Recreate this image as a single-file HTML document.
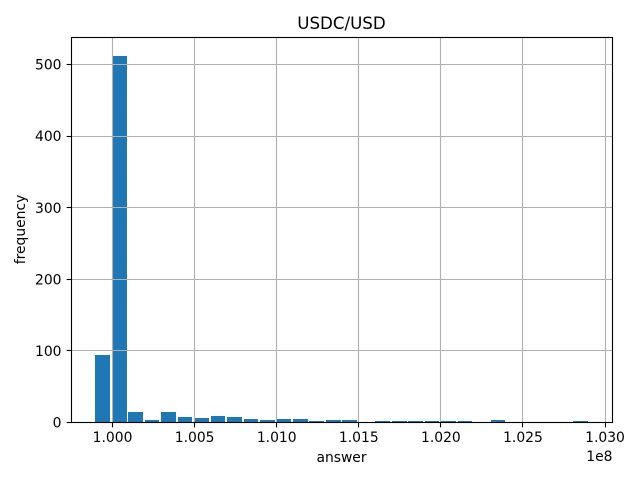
<!DOCTYPE html>
<html>
<head>
<meta charset="utf-8">
<title>USDC/USD</title>
<style>
html,body{margin:0;padding:0;background:#fff;width:640px;height:480px;overflow:hidden}
svg{display:block}
text{font-family:"DejaVu Sans","Liberation Sans",sans-serif;fill:#000}
</style>
</head>
<body>
<svg id="chart" width="640" height="480" viewBox="0 0 640 480" xmlns="http://www.w3.org/2000/svg"></svg>
<script>
const binStart = 0.99895;
const binWidth = 0.0010033;
const barFraction = 0.895;
const frequencies = [94,512,14,3,14,7,5,8,7,4,3,4,4,1,3,3,0,1,1,1,1,1,1,0,3,0,0,0,0,1];
const xTicks = [1.000,1.005,1.010,1.015,1.020,1.025,1.030];
const xTickLabels = ["1.000","1.005","1.010","1.015","1.020","1.025","1.030"];
const yTicks = [0,100,200,300,400,500];
const yTickLabels = ["0","100","200","300","400","500"];
const titleText = "USDC/USD";
const xLabelText = "answer";
const yLabelText = "frequency";
const offsetText = "1e8";

const svg = document.getElementById('chart');
const NS = 'http://www.w3.org/2000/svg';
const plot = {left:71.5, right:612.5, top:37.5, bottom:422.5};
const X_DOMAIN_MIN = 1.0, X_ORIGIN_PX = 112.55, X_PX_PER_UNIT = 16416;
const Y_ORIGIN_PX = 422.3, Y_PX_PER_UNIT = 0.7155;
function xScale(v){ return X_ORIGIN_PX + (v - X_DOMAIN_MIN) * X_PX_PER_UNIT; }
function yScale(v){ return Y_ORIGIN_PX - v * Y_PX_PER_UNIT; }
function snapLine(p){ return Math.floor(p) + 0.5; }
function make(tag, attrs){
  const el = document.createElementNS(NS, tag);
  for (const k in attrs) el.setAttribute(k, attrs[k]);
  svg.appendChild(el);
  return el;
}

// bars
frequencies.forEach(function(f, i){
  if (f <= 0) return;
  const edge = binStart + i * binWidth;
  const x0 = Math.round(xScale(edge));
  const x1 = Math.round(xScale(edge + binWidth * barFraction));
  const top = Math.round(yScale(f) - 0.3);
  const base = Math.floor(yScale(0));
  const el = make('rect', {x:x0, y:top, width:x1-x0, height:base-top, fill:'#1f77b4'});
  
  
});

// grid
xTicks.forEach(function(t){
  const px = snapLine(xScale(t));
  const el = make('line', {x1:px, x2:px, y1:plot.top, y2:plot.bottom, stroke:'#b0b0b0', 'stroke-width':1.11});
  
  
});
yTicks.forEach(function(t){
  const py = snapLine(yScale(t));
  const el = make('line', {x1:plot.left, x2:plot.right, y1:py, y2:py, stroke:'#b0b0b0', 'stroke-width':1.11});
  
  
});

// frame
const frame = make('rect', {x:plot.left, y:plot.top, width:plot.right-plot.left, height:plot.bottom-plot.top, fill:'none', stroke:'#000', 'stroke-width':1.11});



// x ticks
xTicks.forEach(function(t, i){
  const px = snapLine(xScale(t));
  const mark = make('line', {x1:px, x2:px, y1:plot.bottom, y2:plot.bottom+4.86, stroke:'#000', 'stroke-width':1.11});
  
  
  const label = make('text', {x:xScale(t), y:442, 'text-anchor':'middle', 'font-size':13.89});
  label.textContent = xTickLabels[i];
  
  
});

// y ticks
yTicks.forEach(function(t, i){
  const py = snapLine(yScale(t));
  const mark = make('line', {x1:plot.left-4.86, x2:plot.left, y1:py, y2:py, stroke:'#000', 'stroke-width':1.11});
  
  
  const label = make('text', {x:plot.left-10, y:yScale(t)+5.1, 'text-anchor':'end', 'font-size':13.89});
  label.textContent = yTickLabels[i];
  
  
});

// title
const title = make('text', {x:341.5, y:29, 'text-anchor':'middle', 'font-size':16.67});
title.textContent = titleText;



// x axis title
const xTitle = make('text', {x:341.5, y:462, 'text-anchor':'middle', 'font-size':13.89});
xTitle.textContent = xLabelText;



// y axis title
const yTitle = make('text', {x:25, y:229.5, 'text-anchor':'middle', 'font-size':13.89, transform:'rotate(-90 25 229.5)'});
yTitle.textContent = yLabelText;



// scale offset
const offset = make('text', {x:612.5, y:461, 'text-anchor':'end', 'font-size':13.89});
offset.textContent = offsetText;


</script>
</body>
</html>
